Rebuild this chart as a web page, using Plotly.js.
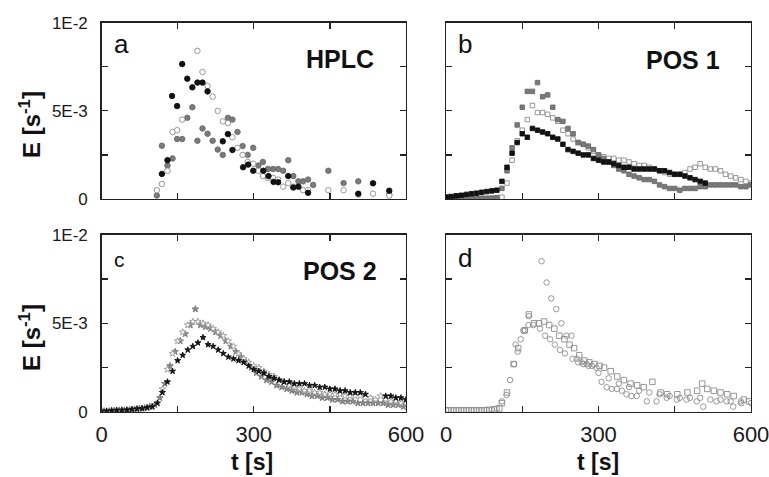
<!DOCTYPE html>
<html>
<head>
<meta charset="utf-8">
<script src="https://cdn.plot.ly/plotly-3.0.1.min.js"></script>
<style>html,body{margin:0;padding:0;background:#fff;}#chart{width:769px;height:477px;}</style>
</head>
<body>
<div id="chart"></div>
<script>
// ---- Panel a (HPLC) : circles ----
const aBlackT = [119,130,139,149,159,169,179,189,199,209,239,249,258,279,289,299,319,329,339,348,368,378,388,407,506,535,567];
const aBlackE = [0.00142,0.0022,0.00584,0.00527,0.00765,0.00682,0.00633,0.0066,0.0066,0.0061,0.00327,0.00368,0.00278,0.0018,0.00195,0.0016,0.0016,0.0013,0.00097,0.00095,0.0013,0.00065,0.0007,0.00035,0.0003,0.00089,0.00047];
const aGrayT = [109,119,130,140,149,159,169,179,189,199,209,219,229,239,249,258,268,278,288,299,309,318,328,338,348,358,368,378,388,397,407,417,447,477,506,567];
const aGrayE = [0.0002,0.00302,0.0019,0.0023,0.0034,0.0034,0.0046,0.0052,0.0033,0.0040,0.0037,0.0033,0.0028,0.0025,0.0046,0.0045,0.0038,0.0030,0.0025,0.0029,0.0019,0.0021,0.0017,0.0017,0.0017,0.0016,0.0022,0.0013,0.0010,0.0010,0.0011,0.0008,0.0016,0.0009,0.0010,0.00025];
const aOpenT = [109,119,130,140,149,159,189,199,209,219,229,239,249,258,268,278,288,299,309,318,328,338,348,358,368,378,397,407,447,477,506,535,567];
const aOpenE = [0.0005,0.00085,0.0016,0.0038,0.0039,0.0045,0.0084,0.0072,0.0064,0.0058,0.0050,0.0044,0.0043,0.0035,0.0029,0.0025,0.0021,0.0020,0.0016,0.0013,0.0012,0.0012,0.0011,0.0007,0.0009,0.0007,0.0005,0.0005,0.0005,0.0005,0.00025,0.0003,0.0002];

// ---- Panel b (POS 1) : squares ----
const bBlackT = [0,10,20,30,40,50,60,70,80,90,100,110,120,130,140,150,160,170,180,190,200,210,220,230,240,250,260,270,280,290,300,310,320,330,340,350,360,370,380,390,400,410,420,430,440,450,460,470,480,490,500,510];
const bBlackE = [0.0001,0.00014,0.00018,0.00021,0.00026,0.0003,0.00033,0.00038,0.00042,0.00046,0.0005,0.0010,0.0018,0.0026,0.0032,0.0037,0.0035,0.0040,0.0039,0.0038,0.0037,0.0035,0.0034,0.0031,0.0028,0.0027,0.0026,0.0025,0.0025,0.0023,0.0022,0.0021,0.0021,0.0020,0.0019,0.0018,0.0018,0.0017,0.0017,0.0017,0.0017,0.0017,0.0016,0.0016,0.0015,0.0014,0.0014,0.0013,0.0012,0.0011,0.0010,0.0009];
const bGrayT = [0,10,20,30,40,50,60,70,80,90,100,110,120,130,140,150,160,170,180,190,200,210,220,230,240,250,260,270,280,290,300,310,320,330,340,350,360,370,380,390,400,410,420,430,440,450,460,470,480,490,500,510,520,530,540,550,560,570,580,590,600];
const bGrayE = [0.00012,0.0001,0.00008,0.00006,0.00005,0.00005,0.00004,0.00004,0.00004,0.00005,0.00008,0.0006,0.0016,0.0029,0.0042,0.0052,0.0061,0.0061,0.0066,0.0058,0.0059,0.0052,0.0045,0.0044,0.0040,0.0037,0.0032,0.0031,0.0030,0.0028,0.0025,0.0023,0.0021,0.0019,0.0017,0.0016,0.0014,0.0013,0.0012,0.0011,0.0011,0.0010,0.0008,0.0007,0.0006,0.0006,0.0005,0.0006,0.0006,0.0006,0.0007,0.0007,0.0008,0.0008,0.0008,0.0008,0.0008,0.0008,0.0007,0.0007,0.0008];
const bOpenT = [0,10,20,30,40,50,60,70,80,90,100,110,120,130,140,150,160,170,180,190,200,210,220,230,240,250,260,270,280,290,300,310,320,330,340,350,360,370,380,390,400,410,420,430,440,450,460,470,480,490,500,510,520,530,540,550,560,570,580,590,600];
const bOpenE = [0.00003,0.00003,0.00003,0.00003,0.00003,0.00003,0.00003,0.00003,0.00003,0.00003,0.00003,0.0001,0.0009,0.0022,0.0033,0.0039,0.0045,0.0053,0.0049,0.0049,0.0048,0.0046,0.0044,0.0039,0.0037,0.0034,0.0032,0.0031,0.0029,0.0027,0.0025,0.0024,0.0023,0.0023,0.0022,0.0022,0.0021,0.0020,0.0019,0.0019,0.0018,0.0017,0.0016,0.0015,0.0014,0.0014,0.0014,0.0015,0.0017,0.0018,0.0020,0.0018,0.0017,0.0017,0.0016,0.0014,0.0013,0.0012,0.0011,0.0010,0.0009];

// ---- Panel c (POS 2) : stars ----
const cBlackT = [0,10,20,30,40,50,60,70,80,90,100,110,120,130,140,150,160,170,180,190,200,210,220,230,240,250,260,270,280,290,300,310,320,330,340,350,360,370,380,390,400,410,420,430,440,450,460,470,480,490,500,510,520,560,570,580,590,600];
const cBlackE = [0.00005,0.00005,0.00008,0.0001,0.0001,0.00012,0.00015,0.00018,0.0002,0.00025,0.0003,0.0005,0.0011,0.0017,0.0023,0.0029,0.0032,0.0035,0.0037,0.0039,0.0042,0.0038,0.0037,0.0035,0.0033,0.0031,0.0030,0.0029,0.0028,0.0026,0.0024,0.0023,0.0022,0.0020,0.0019,0.0018,0.0017,0.0017,0.0016,0.0016,0.0016,0.0015,0.0015,0.0014,0.0014,0.0013,0.0013,0.0012,0.0012,0.0011,0.0011,0.0011,0.0010,0.0009,0.0009,0.0008,0.0008,0.0007];
const cGrayT = [5,15,25,35,45,55,65,75,85,95,105,115,125,135,145,155,165,175,185,195,205,215,225,235,245,255,265,275,285,295,305,315,325,335,345,355,365,375,385,395,405,415,425,435,445,455,465,475,485,495,505,515,525,535,545,555,565,575,585,595];
const cGrayE = [0.00005,0.00005,0.00008,0.0001,0.0001,0.00012,0.00015,0.0002,0.00022,0.0003,0.0004,0.0008,0.0016,0.0026,0.0034,0.0040,0.0044,0.0049,0.0058,0.0049,0.0048,0.0047,0.0045,0.0043,0.0040,0.0037,0.0034,0.0031,0.0028,0.0025,0.0022,0.0020,0.0018,0.0017,0.0015,0.0014,0.0013,0.0012,0.0011,0.0011,0.0010,0.0009,0.0009,0.0008,0.0008,0.0007,0.0007,0.0006,0.0006,0.0006,0.0005,0.0005,0.0005,0.0005,0.0005,0.0005,0.0004,0.0004,0.0004,0.0003];
const cOpenT = [0,10,20,30,40,50,60,70,80,90,100,110,120,130,140,150,160,170,180,190,200,210,220,230,240,250,260,270,280,290,300,310,320,330,340,350,360,370,380,390,400,410,420,430,440,450,460,470,480,490,500,510,520,530,540,550,560,570,580,590,600];
const cOpenE = [0.00004,0.00004,0.00006,0.00008,0.0001,0.0001,0.00012,0.00015,0.0002,0.00022,0.0003,0.0005,0.0013,0.0024,0.0033,0.0040,0.0045,0.0049,0.0051,0.0051,0.0050,0.0049,0.0047,0.0045,0.0043,0.0040,0.0037,0.0033,0.0030,0.0028,0.0026,0.0025,0.0023,0.0021,0.0020,0.0018,0.0017,0.0015,0.0014,0.0013,0.0012,0.0012,0.0011,0.0011,0.0010,0.0010,0.0010,0.0010,0.0009,0.0009,0.0009,0.0009,0.0008,0.0008,0.0007,0.0009,0.0007,0.0006,0.0006,0.0005,0.0005];

// ---- Panel d : open circles and open squares ----
const dCircAT = [0,10,20,30,40,50,60,70,80,90,100,110,119,126,134,141,147,155,163,188,198,207,217,227,237,247,257,267,277,287,296,306,316,326,336,346,355,365,375,395,414,434,454,473,493,506,532,552,565,581];
const dCircAE = [0.0001,0.0001,0.0001,0.0001,0.0001,0.0001,0.0001,0.0001,0.00012,0.00015,0.0002,0.0006,0.00096,0.0018,0.0027,0.0034,0.0041,0.0046,0.0054,0.0085,0.0073,0.0064,0.0058,0.0050,0.0043,0.0043,0.0030,0.0028,0.0027,0.0026,0.0025,0.0017,0.0014,0.0013,0.0013,0.0012,0.0010,0.0009,0.0009,0.0006,0.0006,0.0008,0.0007,0.0007,0.0006,0.0003,0.0006,0.0006,0.0003,0.0005];
const dCircBT = [137,152,162,172,185,195,205,214,224,234,249,260,270,280,300,320,340,360,380,400,420,440,460,480,500,520,540,560,580,600];
const dCircBE = [0.0038,0.0046,0.0049,0.0049,0.0047,0.0043,0.0041,0.0038,0.0035,0.0033,0.0030,0.0028,0.0027,0.0026,0.0022,0.0019,0.0016,0.0014,0.0012,0.0011,0.0010,0.0009,0.0008,0.0008,0.0008,0.0007,0.0007,0.0006,0.0006,0.0005];
const dSqT = [5,15,25,35,45,55,65,75,85,95,105,110,120,133,142,155,163,173,183,193,203,213,223,233,243,252,262,272,282,292,302,311,324,337,350,363,376,389,406,422,435,455,475,494,504,514,527,540,553,566,586,596];
const dSqE = [0.0001,0.0001,0.0001,0.0001,0.0001,0.0001,0.0001,0.0001,0.00012,0.00015,0.0002,0.0005,0.0011,0.0027,0.0036,0.0046,0.0055,0.0050,0.0050,0.0051,0.0049,0.0047,0.0043,0.0041,0.0038,0.0036,0.0032,0.0029,0.0028,0.0027,0.0026,0.0025,0.0023,0.0020,0.0018,0.0016,0.0015,0.0014,0.0017,0.0011,0.0010,0.0010,0.0011,0.0012,0.0016,0.0013,0.0012,0.0011,0.0010,0.0009,0.0007,0.0006];

// ---- ticks / labels ----
const xTickVals = [0,300,600];
const xTickText = ['0','300','600'];
const yTickVals = [0,0.005,0.01];
const yTickText = ['0','5E-3','1E-2'];
const panelLetters = ['a','b','c','d'];
const panelNames = ['HPLC','POS 1','POS 2'];
const xTitle = 't [s]';
const yTitle = 'E [s<sup>-1</sup>]';

const BLACK = '#111', GRAY = '#7a7a7a', OPENLINE = '#8c8c8c';

function tr(x, y, ax, symbol, fill, line, size) {
  return {x: x, y: y, xaxis: 'x' + ax, yaxis: 'y' + ax, type: 'scatter', mode: 'markers',
    marker: {symbol: symbol, size: size, color: fill, line: {color: line, width: 0.9}}, showlegend: false, hoverinfo: 'skip'};
}
const data = [
  tr(aGrayT, aGrayE, '', 'circle', GRAY, '#6a6a6a', 5.5),
  tr(aOpenT, aOpenE, '', 'circle', '#fff', OPENLINE, 5.5),
  tr(aBlackT, aBlackE, '', 'circle', BLACK, BLACK, 5.5),
  tr(bOpenT, bOpenE, '2', 'square', '#fff', OPENLINE, 4.5),
  tr(bGrayT, bGrayE, '2', 'square', GRAY, '#6a6a6a', 4.5),
  tr(bBlackT, bBlackE, '2', 'square', BLACK, BLACK, 4.5),
  tr(cGrayT, cGrayE, '3', 'star', '#8a8a8a', '#777', 5),
  tr(cOpenT, cOpenE, '3', 'star', '#fff', '#9a9a9a', 5),
  tr(cBlackT, cBlackE, '3', 'star', BLACK, BLACK, 4.5),
  tr(dSqT, dSqE, '4', 'square', 'rgba(255,255,255,0)', OPENLINE, 5.5),
  tr(dCircBT, dCircBE, '4', 'circle', 'rgba(255,255,255,0)', OPENLINE, 5.5),
  tr(dCircAT, dCircAE, '4', 'circle', 'rgba(255,255,255,0)', OPENLINE, 5.5)
];

const W = 769, H = 477;
const xDomL = [101.5 / W, 406 / W], xDomR = [446 / W, 751 / W];
const yDomT = [1 - 199 / H, 1 - 22.6 / H], yDomB = [1 - 412 / H, 1 - 234.6 / H];
const FONT = 'Liberation Sans, Arial, sans-serif';

function xax(dom, anchor, labels) {
  return {domain: dom, anchor: anchor, range: [0, 600], tickmode: 'array', tickvals: xTickVals,
    ticktext: xTickText, showticklabels: labels, ticks: 'inside', ticklen: 6, tickwidth: 1.3, tickcolor: '#222',
    minor: {dtick: 150, tick0: 0, ticks: 'inside', ticklen: 6, tickwidth: 1.3, tickcolor: '#222', showgrid: false},
    showline: true, linecolor: '#222', linewidth: 1.3, mirror: 'ticks', showgrid: false, zeroline: false,
    tickfont: {family: FONT, size: 22, color: '#1a1a1a'}, ticklabelstandoff: 2, ticklabeloverflow: 'allow', fixedrange: true};
}
function yax(dom, anchor, labels) {
  return {domain: dom, anchor: anchor, range: [0, 0.01], tickmode: 'array', tickvals: yTickVals,
    ticktext: yTickText, showticklabels: labels, ticks: 'inside', ticklen: 6, tickwidth: 1.3, tickcolor: '#222',
    minor: {dtick: 0.0025, tick0: 0, ticks: 'inside', ticklen: 6, tickwidth: 1.3, tickcolor: '#222', showgrid: false},
    showline: true, linecolor: '#222', linewidth: 1.3, mirror: 'ticks', showgrid: false, zeroline: false,
    tickfont: {family: FONT, size: 17, color: '#1a1a1a'}, ticklabelstandoff: 9, ticklabeloverflow: 'allow', fixedrange: true};
}

function ann(text, xpx, ypx, size, bold, xanchor, angle) {
  return {text: bold ? '<b>' + text + '</b>' : text, xref: 'paper', yref: 'paper', x: xpx / W, y: 1 - ypx / H,
    xanchor: xanchor || 'center', yanchor: 'middle', showarrow: false, textangle: angle || 0,
    font: {family: FONT, size: size, color: '#111'}};
}

const annotations = [
  ann(panelLetters[0], 112, 44, 26, false, 'left'),
  ann(panelLetters[1], 456, 44, 26, false, 'left'),
  ann(panelLetters[2], 112, 259, 21, false, 'left'),
  ann(panelLetters[3], 456, 258, 26, false, 'left'),
  ann(panelNames[0], 340, 59, 25, true),
  ann(panelNames[1], 683, 60, 25, true),
  ann(panelNames[2], 340, 271, 25, true),
  ann(xTitle, 252, 462, 23, true),
  ann(xTitle, 598, 462, 23, true),
  ann(yTitle, 30, 125, 24, true, 'center', -90),
  ann(yTitle, 30, 338, 24, true, 'center', -90)
];

const layout = {
  width: W, height: H, margin: {l: 0, r: 0, t: 0, b: 0}, paper_bgcolor: '#fff', plot_bgcolor: '#fff',
  showlegend: false,
  xaxis: xax(xDomL, 'y', false), yaxis: yax(yDomT, 'x', true),
  xaxis2: xax(xDomR, 'y2', false), yaxis2: yax(yDomT, 'x2', false),
  xaxis3: xax(xDomL, 'y3', true), yaxis3: yax(yDomB, 'x3', true),
  xaxis4: xax(xDomR, 'y4', true), yaxis4: yax(yDomB, 'x4', false),
  annotations: annotations
};

Plotly.newPlot('chart', data, layout, {displayModeBar: false, staticPlot: true});
</script>
</body>
</html>
